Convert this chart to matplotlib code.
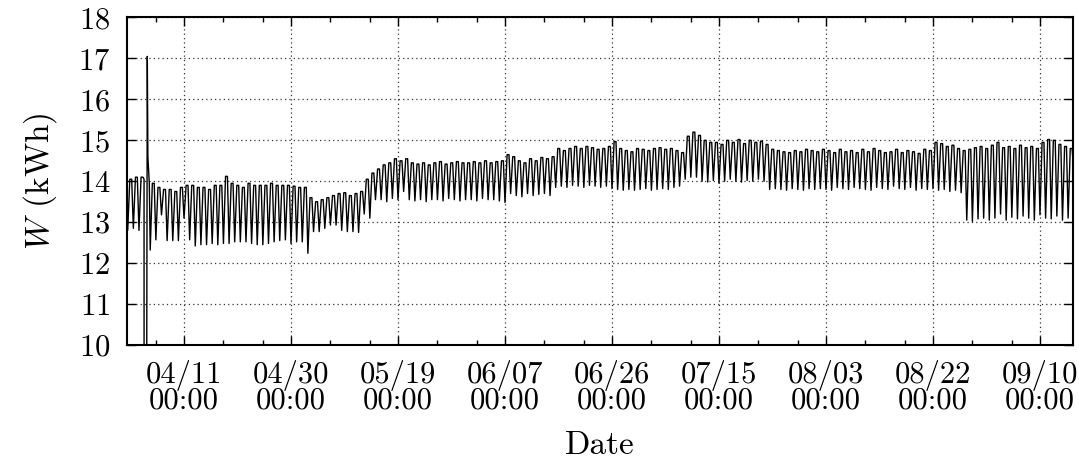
"""
Daily energy W (kWh) time series, gnuplot-like look.
"""

import matplotlib
matplotlib.use("Agg")
import matplotlib.pyplot as plt
import matplotlib.dates as mdates
import pandas as pd

# ── Data (one high/low pair per day) ──────────────────────────────────────────
START = "2013-04-01"
FIRST_TIME, FIRST_VALUE = "2013-03-31 21:00", 14.00
LAST_TIME, LAST_VALUE = "2013-09-15 22:00", 14.40

highs_apr = [14.05, 14.10, 14.10, 13.95, 13.95, 13.85, 13.80, 13.80, 13.75, 13.85,
             13.90, 13.90, 13.85, 13.85, 13.80, 13.90, 13.90, 14.12, 13.95, 13.90,
             13.85, 13.95, 13.90, 13.90, 13.90, 13.95, 13.90, 13.90, 13.90, 13.88]
lows_apr = [12.80, 12.85, 12.80, 12.80, 12.32, 12.57, 13.18, 12.55, 12.55, 12.55,
            13.10, 12.57, 12.42, 12.45, 12.45, 12.48, 12.45, 12.48, 12.48, 12.52,
            12.52, 12.52, 12.48, 12.45, 12.45, 12.48, 12.52, 12.55, 12.57, 12.48]

highs_may = [13.85, 13.85, 13.60, 13.50, 13.55, 13.60, 13.65, 13.70, 13.72, 13.65,
             13.70, 13.75, 14.05, 14.20, 14.30, 14.40, 14.45, 14.55, 14.50, 14.55,
             14.45, 14.42, 14.45, 14.40, 14.45, 14.48, 14.42, 14.45, 14.48, 14.45,
             14.45]
lows_may = [12.52, 12.52, 12.24, 12.77, 12.77, 12.85, 12.93, 12.93, 12.80, 12.77,
            12.77, 12.75, 13.20, 13.10, 13.55, 13.55, 13.50, 13.58, 13.55, 13.75,
            13.55, 13.52, 13.55, 13.50, 13.55, 13.55, 13.52, 13.58, 13.55, 13.52,
            13.55]

highs_jun = [14.48, 14.45, 14.50, 14.45, 14.48, 14.50, 14.65, 14.60, 14.50, 14.45,
             14.55, 14.50, 14.58, 14.55, 14.60, 14.80, 14.75, 14.80, 14.85, 14.80,
             14.85, 14.82, 14.78, 14.80, 14.85, 14.97, 14.80, 14.75, 14.72, 14.80]
lows_jun = [13.55, 13.52, 13.58, 13.55, 13.55, 13.52, 13.48, 13.70, 13.65, 13.62,
            13.70, 13.65, 13.68, 13.70, 13.65, 13.85, 13.88, 13.85, 13.90, 13.88,
            13.85, 13.90, 13.88, 13.85, 13.88, 13.82, 13.80, 13.78, 13.80, 13.78]

highs_jul = [14.78, 14.75, 14.80, 14.82, 14.78, 14.80, 14.75, 14.70, 15.10, 15.20,
             15.12, 15.00, 14.95, 14.95, 14.90, 15.00, 14.95, 15.02, 14.92, 15.00,
             14.95, 14.98, 14.90, 14.78, 14.75, 14.72, 14.70, 14.75, 14.72, 14.78,
             14.75]
lows_jul = [13.80, 13.82, 13.78, 13.80, 13.82, 13.80, 13.85, 13.88, 14.05, 14.10,
            14.10, 14.00, 13.98, 14.02, 13.95, 14.00, 14.05, 14.00, 13.98, 14.02,
            14.00, 14.05, 14.00, 13.80, 13.82, 13.80, 13.78, 13.82, 13.80, 13.78,
            13.82]

highs_aug = [14.72, 14.78, 14.75, 14.70, 14.78, 14.72, 14.75, 14.70, 14.78, 14.72,
             14.80, 14.75, 14.70, 14.72, 14.78, 14.70, 14.75, 14.72, 14.68, 14.78,
             14.75, 14.95, 14.92, 14.85, 14.88, 14.80, 14.75, 14.78, 14.82, 14.85,
             14.80]
lows_aug = [13.80, 13.82, 13.80, 13.78, 13.85, 13.82, 13.80, 13.85, 13.82, 13.80,
            13.78, 13.85, 13.82, 13.80, 13.88, 13.82, 13.80, 13.85, 13.78, 13.82,
            13.80, 13.82, 13.78, 13.80, 13.75, 13.78, 13.72, 13.05, 13.02, 13.08,
            13.10]

highs_sep = [14.88, 14.95, 14.82, 14.85, 14.80, 14.88, 14.82, 14.85, 14.80, 14.95,
             15.02, 15.00, 14.90, 14.85, 14.80]
lows_sep = [13.05, 13.10, 13.20, 13.05, 13.12, 13.08, 13.15, 13.10, 13.05, 13.18,
            13.10, 13.08, 13.15, 13.05, 13.10]

# meter outage on 04/04: drop to zero, then a catch-up spike
glitch_times = ["2013-04-03 21:40", "2013-04-03 22:00", "2013-04-04 06:00",
                "2013-04-04 11:30", "2013-04-04 14:00", "2013-04-04 20:00"]
glitch_values = [14.05, 0.0, 0.0, 17.05, 14.60, 13.95]

# hours of the day at which the low / high values sit
LOW_HOUR, HIGH_HOURS = 0, (9, 17)

YTICKS = list(range(10, 19))

plt.rcParams.update({
    "font.family": "cmr10",
    "mathtext.fontset": "cm",
    "axes.formatter.use_mathtext": True,
    "font.size": 22,
})


def build_series():
    highs = highs_apr + highs_may + highs_jun + highs_jul + highs_aug + highs_sep
    lows = lows_apr + lows_may + lows_jun + lows_jul + lows_aug + lows_sep
    days = pd.date_range(START, periods=len(highs), freq="D")

    rows = [(pd.Timestamp(FIRST_TIME), FIRST_VALUE)]
    for day, hi, lo in zip(days, highs, lows):
        rows.append((day + pd.Timedelta(hours=LOW_HOUR), lo))
        for h in HIGH_HOURS:
            rows.append((day + pd.Timedelta(hours=h), hi))
    rows.append((pd.Timestamp(LAST_TIME), LAST_VALUE))

    s = pd.Series(dict(rows)).sort_index()
    g0, g1 = pd.Timestamp(glitch_times[0]), pd.Timestamp(glitch_times[-1])
    s = s[(s.index < g0) | (s.index > g1)]
    s = pd.concat([s, pd.Series(glitch_values, index=pd.to_datetime(glitch_times))])
    return s.sort_index()


def main():
    s = build_series()

    fig = plt.figure(figsize=(10.79, 4.58), dpi=100)
    ax = fig.add_axes([0.1177, 0.2467, 0.9947 - 0.1177, 0.9618 - 0.2467])

    ax.plot(s.index, s.values, color="black", linewidth=1.0)

    # major ticks every 19 days, minor ones 7 and 14 days after each major
    majors = pd.date_range("2013-03-23", "2013-09-29", freq="19D")
    minors = [m + pd.Timedelta(days=k) for m in majors for k in (7, 14)]
    ax.set_xticks(majors)
    ax.set_xticks(minors, minor=True)
    ax.xaxis.set_major_formatter(mdates.DateFormatter("%m/%d\n%H:%M"))
    ax.set_yticks(YTICKS)

    ax.set_xlim(s.index[0], s.index[-1])
    ax.set_ylim(10, 18)

    ax.tick_params(which="both", direction="in", top=True, right=True)
    ax.tick_params(which="major", length=6.5, width=1.0)
    ax.tick_params(which="minor", length=3.5, width=1.0)
    ax.tick_params(axis="x", pad=11)
    ax.tick_params(axis="y", pad=12)
    for lab in ax.get_xticklabels():
        lab.set_linespacing(0.8)

    ax.grid(True, which="major", color="#333333", linestyle=(0, (1, 2.5)), linewidth=0.9)
    for sp in ax.spines.values():
        sp.set_linewidth(1.5)

    ax.set_xlabel("Date", fontsize=24, labelpad=12)
    ax.set_ylabel(r"$W$ (kWh)", fontsize=24, labelpad=14)

    fig.savefig("out.png", dpi=100)
    plt.close(fig)


if __name__ == "__main__":
    main()
